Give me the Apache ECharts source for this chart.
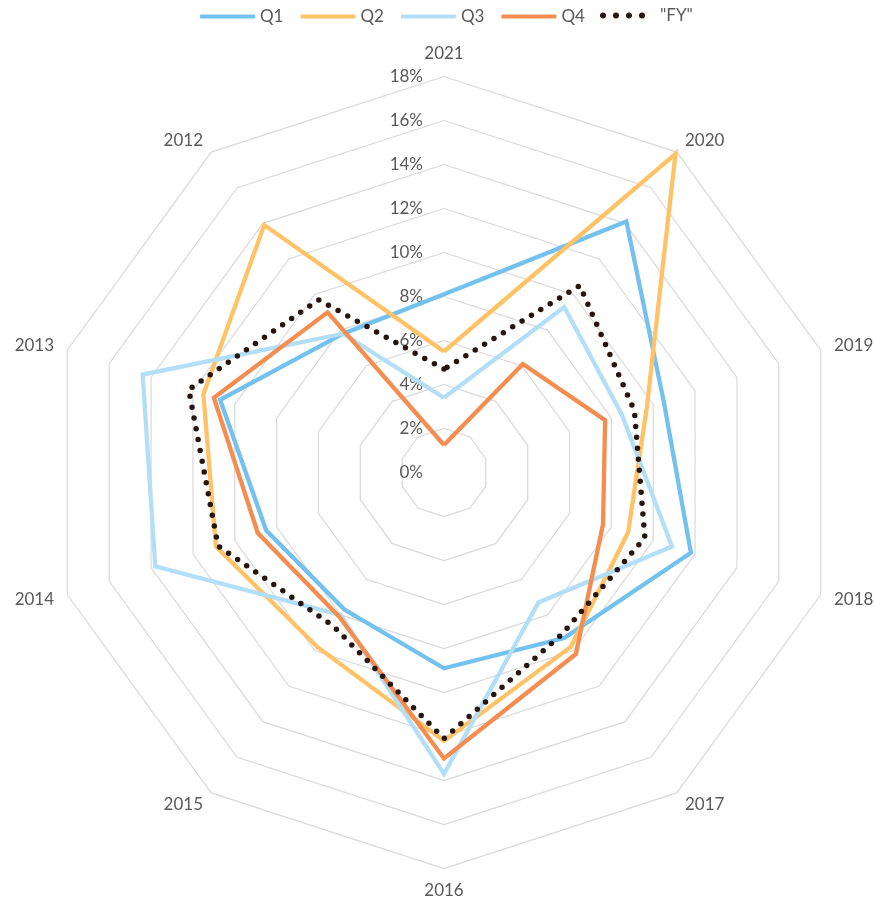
<!DOCTYPE html>
<html>
<head>
<meta charset="utf-8">
<script src="https://cdn.jsdelivr.net/npm/echarts@6/dist/echarts.min.js"></script>
<style>
  html, body { margin: 0; padding: 0; background: #ffffff; }
  #chart { width: 874px; height: 904px; }
</style>
</head>
<body>
<div id="chart"></div>
<script>
// Categories clockwise from the top, as in the picture
const categories = ['2021', '2020', '2019', '2018', '2017', '2016', '2015', '2014', '2013', '2012'];
// Values in % (same order as categories)
const q1 = [8.1, 14.1, 10.5, 11.8, 9.3, 8.9, 7.7, 8.5, 10.7, 7.8];
const q2 = [5.5, 17.9, 9.7, 8.8, 9.8, 12.2, 9.8, 10.9, 11.5, 13.9];
const q3 = [3.4, 9.3, 8.5, 10.9, 7.3, 13.7, 8.0, 13.8, 14.4, 7.8];
const q4 = [1.25, 6.1, 7.7, 7.6, 10.2, 13.0, 8.1, 8.9, 11.0, 9.0];
const fy = [4.7, 10.5, 9.1, 9.6, 9.1, 12.1, 8.6, 10.8, 12.2, 9.7];
const seriesNames = ['Q1', 'Q2', 'Q3', 'Q4', '"FY"'];
const axisMin = 0, axisMax = 18, axisSplits = 9;

const colors = ['#72C1EF', '#FFC267', '#B3DEF7', '#F48D4F', '#26150F'];
const textColor = '#595959';
const fontFamily = 'Lato, "Open Sans", sans-serif';

// ECharts places radar indicators counter-clockwise; reorder to get a clockwise layout
function ccw(arr) { return [arr[0]].concat(arr.slice(1).reverse()); }

const indicators = ccw(categories).map(function (c, i) {
  const ind = { name: c, min: axisMin, max: axisMax };
  if (i === 0) {
    ind.axisLabel = {
      show: true,
      formatter: '{value}%',
      color: textColor,
      fontSize: 17,
      fontFamily: fontFamily,
      margin: 21
    };
  }
  return ind;
});

const allValues = [q1, q2, q3, q4, fy];

const series = allValues.map(function (vals, i) {
  const isFY = i === 4;
  return {
    type: 'radar',
    name: seriesNames[i],
    symbol: 'none',
    z: 2 + i,
    lineStyle: isFY
      ? { color: colors[i], width: 5.5, type: [0, 11], cap: 'round', join: 'round' }
      : { color: colors[i], width: 4.3, join: 'miter', miterLimit: 20 },
    itemStyle: { color: colors[i] },
    areaStyle: null,
    data: [{ name: seriesNames[i], value: ccw(vals) }]
  };
});

const chart = echarts.init(document.getElementById('chart'), null, { renderer: 'canvas' });
chart.setOption({
  animation: false,
  backgroundColor: '#ffffff',
  legend: [
    {
      data: seriesNames.slice(0, 4),
      left: 200,
      top: 8,
      padding: 0,
      itemWidth: 55,
      itemHeight: 4,
      itemGap: 17,
      icon: 'roundRect',
      textStyle: { color: textColor, fontSize: 17, fontFamily: fontFamily },
      selectedMode: false
    },
    {
      data: [{
        name: seriesNames[4],
        icon: 'path://M0,3a3,3 0 1,0 6,0a3,3 0 1,0 -6,0Z M13,3a3,3 0 1,0 6,0a3,3 0 1,0 -6,0Z M26,3a3,3 0 1,0 6,0a3,3 0 1,0 -6,0Z M39,3a3,3 0 1,0 6,0a3,3 0 1,0 -6,0Z'
      }],
      left: 600,
      top: 7,
      padding: 0,
      itemWidth: 45,
      itemHeight: 6,
      textStyle: { color: textColor, fontSize: 17, fontFamily: fontFamily, padding: [0, 0, 0, 10] },
      selectedMode: false
    }
  ],
  radar: {
    center: [444, 472.5],
    radius: 396,
    startAngle: 90,
    shape: 'polygon',
    splitNumber: axisSplits,
    nameGap: 14,
    axisName: { color: textColor, fontSize: 17, fontFamily: fontFamily },
    axisLine: { show: false },
    axisTick: { show: false },
    axisLabel: { show: false },
    splitLine: { show: true, lineStyle: { color: '#D9D9D9', width: 1.2 } },
    splitArea: { show: false },
    indicator: indicators
  },
  series: series
});
</script>
</body>
</html>
